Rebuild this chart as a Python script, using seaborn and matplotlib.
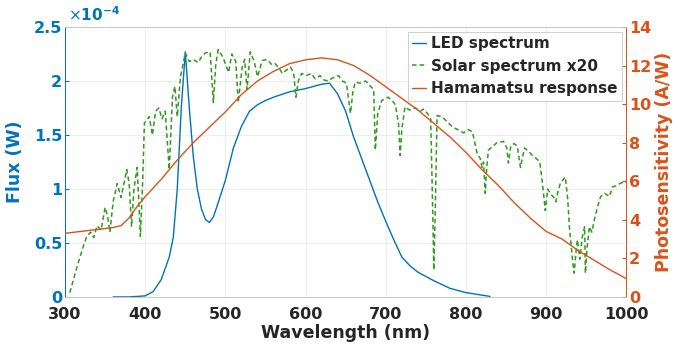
import matplotlib
matplotlib.use("Agg")
import matplotlib.pyplot as plt
import seaborn as sns
import numpy as np
import pandas as pd

# LED spectrum, flux in units of 1e-4 W
led_nm = [360, 380, 400, 410, 420, 430, 435, 440, 445, 450, 455, 460, 465, 470, 475,
          480, 485, 490, 500, 510, 520, 530, 540, 550, 560, 580, 600, 620, 630, 640,
          650, 660, 670, 680, 690, 700, 710, 720, 730, 740, 760, 780, 800, 830]
led_flux = [0, 0, 0.01, 0.05, 0.16, 0.37, 0.55, 1.0, 1.75, 2.27, 1.75, 1.3, 1.0, 0.82, 0.72,
            0.69, 0.74, 0.85, 1.08, 1.38, 1.58, 1.72, 1.78, 1.82, 1.85, 1.90, 1.93, 1.97, 1.98, 1.88,
            1.72, 1.48, 1.28, 1.08, 0.88, 0.70, 0.53, 0.37, 0.29, 0.23, 0.15, 0.08, 0.04, 0.005]

# solar spectrum x20, flux in units of 1e-4 W
solar_nm = [306, 315, 322, 327, 332, 336, 340, 345, 350, 353, 356, 360, 365, 370, 377, 380,
            383, 386, 390, 392, 394, 397, 399, 405, 409, 413, 417, 421, 425, 430, 434, 437,
            440, 444, 450, 455, 460, 466, 470, 475, 481, 485, 488, 491, 497, 504, 508, 513,
            516, 521, 524, 527, 531, 536, 540, 546, 552, 558, 562, 567, 571, 576, 581, 585,
            588, 591, 595, 601, 607, 612, 618, 623, 628, 634, 641, 646, 651, 656, 659, 662,
            668, 675, 680, 685, 687, 690, 695, 703, 708, 712, 716, 718, 720, 724, 730, 737,
            743, 747, 752, 756, 758, 760, 762, 764, 770, 777, 784, 790, 797, 803, 808, 814,
            818, 820, 822, 824, 826, 828, 834, 839, 847, 851, 853, 856, 860, 864, 868, 873,
            878, 883, 888, 892, 895, 899, 902, 906, 910, 912, 915, 918, 924, 927, 929, 933,
            935, 937, 939, 942, 945, 948, 949, 951, 954, 957, 960, 964, 968, 973, 979, 983,
            988, 992, 998, 1000]
solar_flux = [0.04, 0.28, 0.45, 0.56, 0.60, 0.55, 0.66, 0.62, 0.83, 0.75, 0.60, 0.88, 1.05, 0.92, 1.18, 1.05,
              0.65, 1.00, 1.20, 0.90, 0.56, 1.10, 1.61, 1.67, 1.50, 1.72, 1.75, 1.65, 1.72, 1.18, 1.85, 1.95,
              1.67, 2.04, 2.26, 2.18, 2.20, 2.17, 2.22, 2.26, 2.27, 1.80, 2.15, 2.29, 2.22, 2.08, 2.25, 2.18,
              1.80, 2.13, 2.20, 1.92, 2.27, 2.18, 2.04, 2.19, 2.20, 2.15, 2.16, 2.12, 2.07, 2.10, 2.13, 2.08,
              1.85, 2.00, 2.07, 2.05, 2.07, 2.02, 2.05, 2.01, 2.00, 2.03, 2.05, 2.00, 1.98, 1.70, 1.90, 1.99,
              1.98, 2.00, 1.96, 1.92, 1.36, 1.70, 1.82, 1.85, 1.82, 1.78, 1.60, 1.31, 1.55, 1.76, 1.73, 1.75,
              1.72, 1.74, 1.70, 1.65, 1.00, 0.25, 0.90, 1.68, 1.67, 1.62, 1.57, 1.55, 1.52, 1.55, 1.53, 1.33,
              1.28, 1.20, 1.25, 0.96, 1.20, 1.36, 1.40, 1.43, 1.44, 1.38, 1.24, 1.40, 1.42, 1.40, 1.20, 1.38,
              1.35, 1.31, 1.28, 1.25, 1.08, 0.80, 1.00, 0.95, 0.92, 0.88, 0.98, 1.06, 1.11, 0.90, 0.65, 0.34,
              0.22, 0.40, 0.53, 0.35, 0.55, 0.65, 0.22, 0.45, 0.65, 0.60, 0.71, 0.83, 0.93, 0.96, 0.93, 1.02,
              1.03, 1.05, 1.07, 1.06]

# Hamamatsu photosensitivity (A/W)
ham_nm = [300, 320, 340, 360, 370, 380, 390, 400, 420, 440, 460, 480, 500, 520, 540, 560,
          580, 600, 620, 640, 660, 680, 700, 720, 740, 760, 780, 800, 820, 840, 860, 880,
          900, 920, 940, 960, 980, 1000]
ham_resp = [3.3, 3.4, 3.5, 3.6, 3.7, 4.1, 4.7, 5.2, 6.1, 7.1, 8.0, 8.8, 9.6, 10.5, 11.2, 11.7,
            12.1, 12.3, 12.4, 12.3, 12.0, 11.5, 10.9, 10.3, 9.7, 9.0, 8.3, 7.5, 6.6, 5.8, 4.9, 4.1,
            3.4, 3.0, 2.4, 1.9, 1.4, 0.95]

x_ticks = [300, 400, 500, 600, 700, 800, 900, 1000]
flux_ticks = [0, 0.5, 1, 1.5, 2, 2.5]
resp_ticks = [0, 2, 4, 6, 8, 10, 12, 14]

blue = '#0072BD'
orange = '#D95319'
green = '#2f9a1e'
gray = '#262626'

sns.set_style('white')
plt.rcParams['font.family'] = ['DejaVu Sans']

led_df = pd.DataFrame({'nm': led_nm, 'flux': led_flux})
solar_df = pd.DataFrame({'nm': solar_nm, 'flux': solar_flux})
ham_df = pd.DataFrame({'nm': ham_nm, 'resp': ham_resp})

fig = plt.figure(figsize=(6.99, 3.51), dpi=100)
ax = fig.add_axes([0.093, 0.154, 0.803, 0.769])
ax2 = ax.twinx()

sns.lineplot(data=led_df, x='nm', y='flux', ax=ax, color=blue, lw=1.0, label='LED spectrum', legend=False)
sns.lineplot(data=solar_df, x='nm', y='flux', ax=ax, color=green, lw=1.1, ls=(0, (3, 2)),
             label='Solar spectrum x20', legend=False)
sns.lineplot(data=ham_df, x='nm', y='resp', ax=ax2, color=orange, lw=1.0, label='Hamamatsu response', legend=False)

ax.set_xlim(300, 1000)
ax.set_ylim(0, 2.5)
ax2.set_ylim(0, 14)
ax.set_xticks(x_ticks)
ax.set_yticks(flux_ticks)
ax.set_yticklabels(['%g' % t for t in flux_ticks])
ax2.set_yticks(resp_ticks)

ax.grid(True, color='#dcdcdc', lw=0.6, alpha=0.6)
ax.tick_params(axis='x', direction='in', length=3, colors=gray, labelsize=11.5, pad=7)
ax.tick_params(axis='y', direction='in', length=3, colors=blue, labelsize=11.5, pad=2)
ax2.tick_params(axis='y', direction='in', length=3, colors=orange, labelsize=11.5, pad=2)
for lab in ax.get_xticklabels() + ax.get_yticklabels() + ax2.get_yticklabels():
    lab.set_fontweight('bold')

for a in (ax, ax2):
    a.spines['top'].set_color('#c8c8c8')
    a.spines['bottom'].set_color('#c8c8c8')
    a.spines['left'].set_color(blue)
    a.spines['right'].set_color(orange)
    for s in a.spines.values():
        s.set_linewidth(0.6)

ax.set_xlabel('Wavelength (nm)', fontsize=12.5, fontweight='bold', color=gray, labelpad=2)
ax.set_ylabel('Flux (W)', fontsize=12.5, fontweight='bold', color=blue, labelpad=7)
ax2.set_ylabel('Photosensitivity (A/W)', fontsize=12.5, fontweight='bold', color=orange, labelpad=3)
ax.text(0.005, 1.012, r'$\times\mathbf{10^{-4}}$', transform=ax.transAxes, color=blue,
        fontsize=11, ha='left', va='bottom')

h1, l1 = ax.get_legend_handles_labels()
h2, l2 = ax2.get_legend_handles_labels()
leg = ax2.legend(h1 + h2, l1 + l2, loc='upper right', handlelength=0.9, handletextpad=0.3,
                 borderpad=0.3, labelspacing=0.5, fancybox=False, framealpha=1,
                 edgecolor='#c8c8c8', prop={'weight': 'bold', 'size': 11}, borderaxespad=0.3)
leg.get_frame().set_linewidth(0.6)

fig.savefig('out.png', dpi=100)
